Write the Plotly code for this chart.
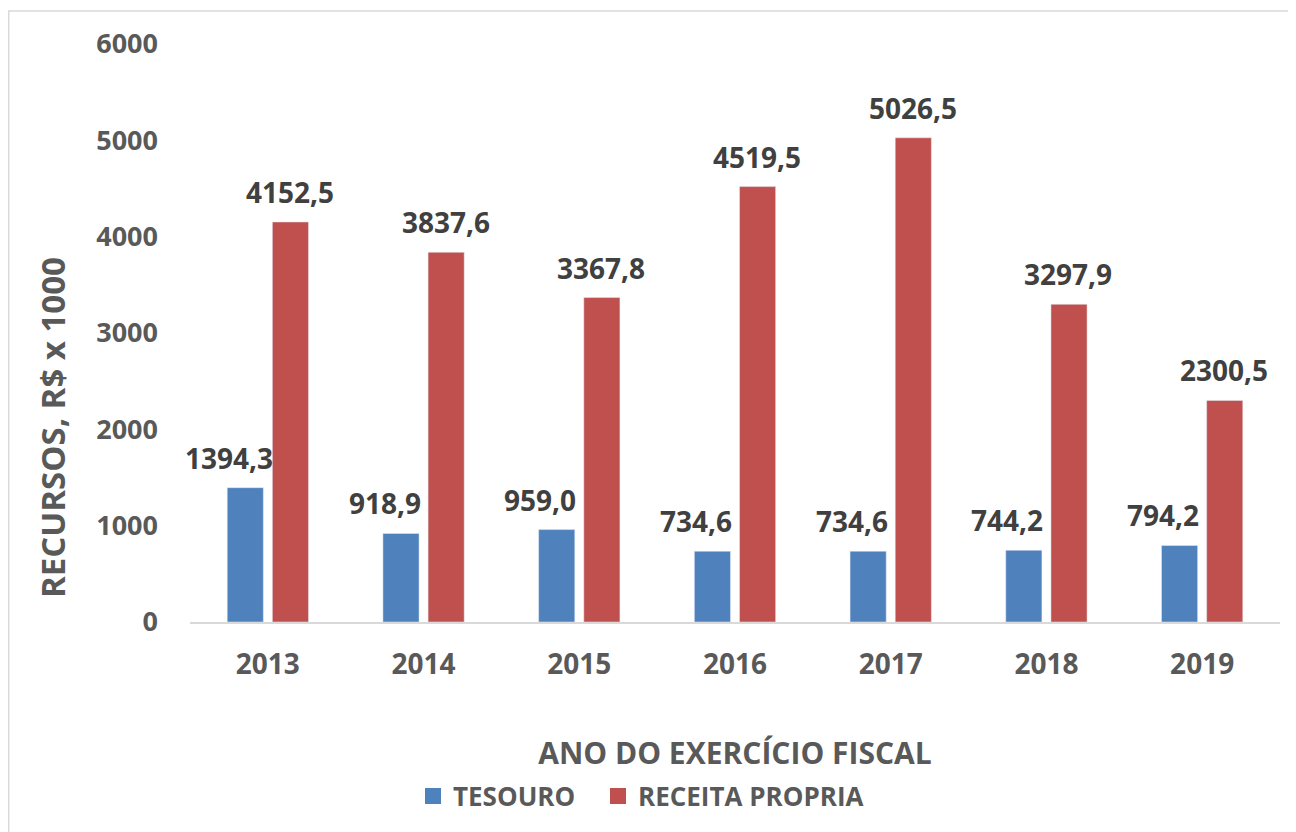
import plotly.graph_objects as go

years = ["2013", "2014", "2015", "2016", "2017", "2018", "2019"]
tesouro = [1394.3, 918.9, 959.0, 734.6, 734.6, 744.2, 794.2]
receita = [4152.5, 3837.6, 3367.8, 4519.5, 5026.5, 3297.9, 2300.5]
y_ticks = [0, 1000, 2000, 3000, 4000, 5000, 6000]

FONT = "Open Sans"
GREY = "#595959"
DARK = "#404040"
BLUE = "#4F81BD"
RED = "#C0504D"

def fmt(v):
    return f"{v:.1f}".replace(".", ",")

fig = go.Figure()
fig.add_trace(go.Bar(name="TESOURO", x=years, y=tesouro, marker_color=BLUE, showlegend=False))
fig.add_trace(go.Bar(name="RECEITA PROPRIA", x=years, y=receita, marker_color=RED, showlegend=False))
# legend entries with larger square swatches
fig.add_trace(go.Scatter(name="TESOURO", x=[None], y=[None], mode="markers", legend="legend",
                         marker=dict(symbol="square", size=16, color=BLUE)))
fig.add_trace(go.Scatter(name="RECEITA PROPRIA", x=[None], y=[None], mode="markers", legend="legend2",
                         marker=dict(symbol="square", size=16, color=RED)))

# data labels: category index positions on the category axis
annotations = []
for i, v in enumerate(tesouro):
    annotations.append(dict(x=i, y=v, xref="x", yref="y", text=fmt(v), showarrow=False,
                            xshift=-39, yshift=30, yanchor="middle",
                            font=dict(family=FONT, size=28, color=DARK, weight="bold")))
for i, v in enumerate(receita):
    annotations.append(dict(x=i, y=v, xref="x", yref="y", text=fmt(v), showarrow=False,
                            xshift=22, yshift=30, yanchor="middle",
                            font=dict(family=FONT, size=28, color=DARK, weight="bold")))

# y-axis title (placed like the reference, below the axis centre)
annotations.append(dict(x=(44 - 182) / 1090, y=(614 - 420) / 578, xref="paper", yref="paper",
                        text="RECURSOS, R$ x 1000", textangle=-90, showarrow=False,
                        xanchor="center", yanchor="middle",
                        font=dict(family=FONT, size=33, color=GREY, weight="bold")))

legend_font = dict(family=FONT, size=26, color=GREY, weight="bold")

fig.update_layout(
    width=1288, height=824,
    paper_bgcolor="white", plot_bgcolor="white",
    margin=dict(l=182, r=16, t=36, b=210),
    barmode="group", bargap=0.42, bargroupgap=0.2,
    font=dict(family=FONT, color=GREY, weight="bold"),
    xaxis=dict(
        type="category", range=[-0.5, len(years) - 0.5], autorange=False,
        showline=True, linecolor="#d9d9d9", linewidth=1.5, showgrid=False,
        tickfont=dict(family=FONT, size=28, color=GREY, weight="bold"),
        ticklabelstandoff=17,
        title=dict(text="ANO DO EXERCÍCIO FISCAL", standoff=62,
                   font=dict(family=FONT, size=30, color=GREY, weight="bold")),
    ),
    yaxis=dict(
        range=[0, 6000], autorange=False, tickvals=y_ticks, showgrid=False, zeroline=False, showline=False,
        tickfont=dict(family=FONT, size=27, color=GREY, weight="bold"),
        ticklabelstandoff=31,
    ),
    legend=dict(orientation="h", x=(405 - 182) / 1090, xanchor="left", y=(614 - 788) / 578, yanchor="middle",
                font=legend_font, itemsizing="trace", bgcolor="rgba(0,0,0,0)"),
    legend2=dict(orientation="h", x=(590 - 182) / 1090, xanchor="left", y=(614 - 788) / 578, yanchor="middle",
                 font=legend_font, itemsizing="trace", bgcolor="rgba(0,0,0,0)"),
    annotations=annotations,
    shapes=[
        dict(type="line", xref="paper", yref="paper", x0=(0.7 - 182) / 1090, x1=(0.7 - 182) / 1090,
             y0=(614 - 3) / 578, y1=(614 - 840) / 578, line=dict(color="#d9d9d9", width=1.5)),
        dict(type="line", xref="paper", yref="paper", x0=(0 - 182) / 1090, x1=(1300 - 182) / 1090,
             y0=(614 - 3) / 578, y1=(614 - 3) / 578, line=dict(color="#d9d9d9", width=1.5)),
    ],
)

fig.write_html("out.html")
